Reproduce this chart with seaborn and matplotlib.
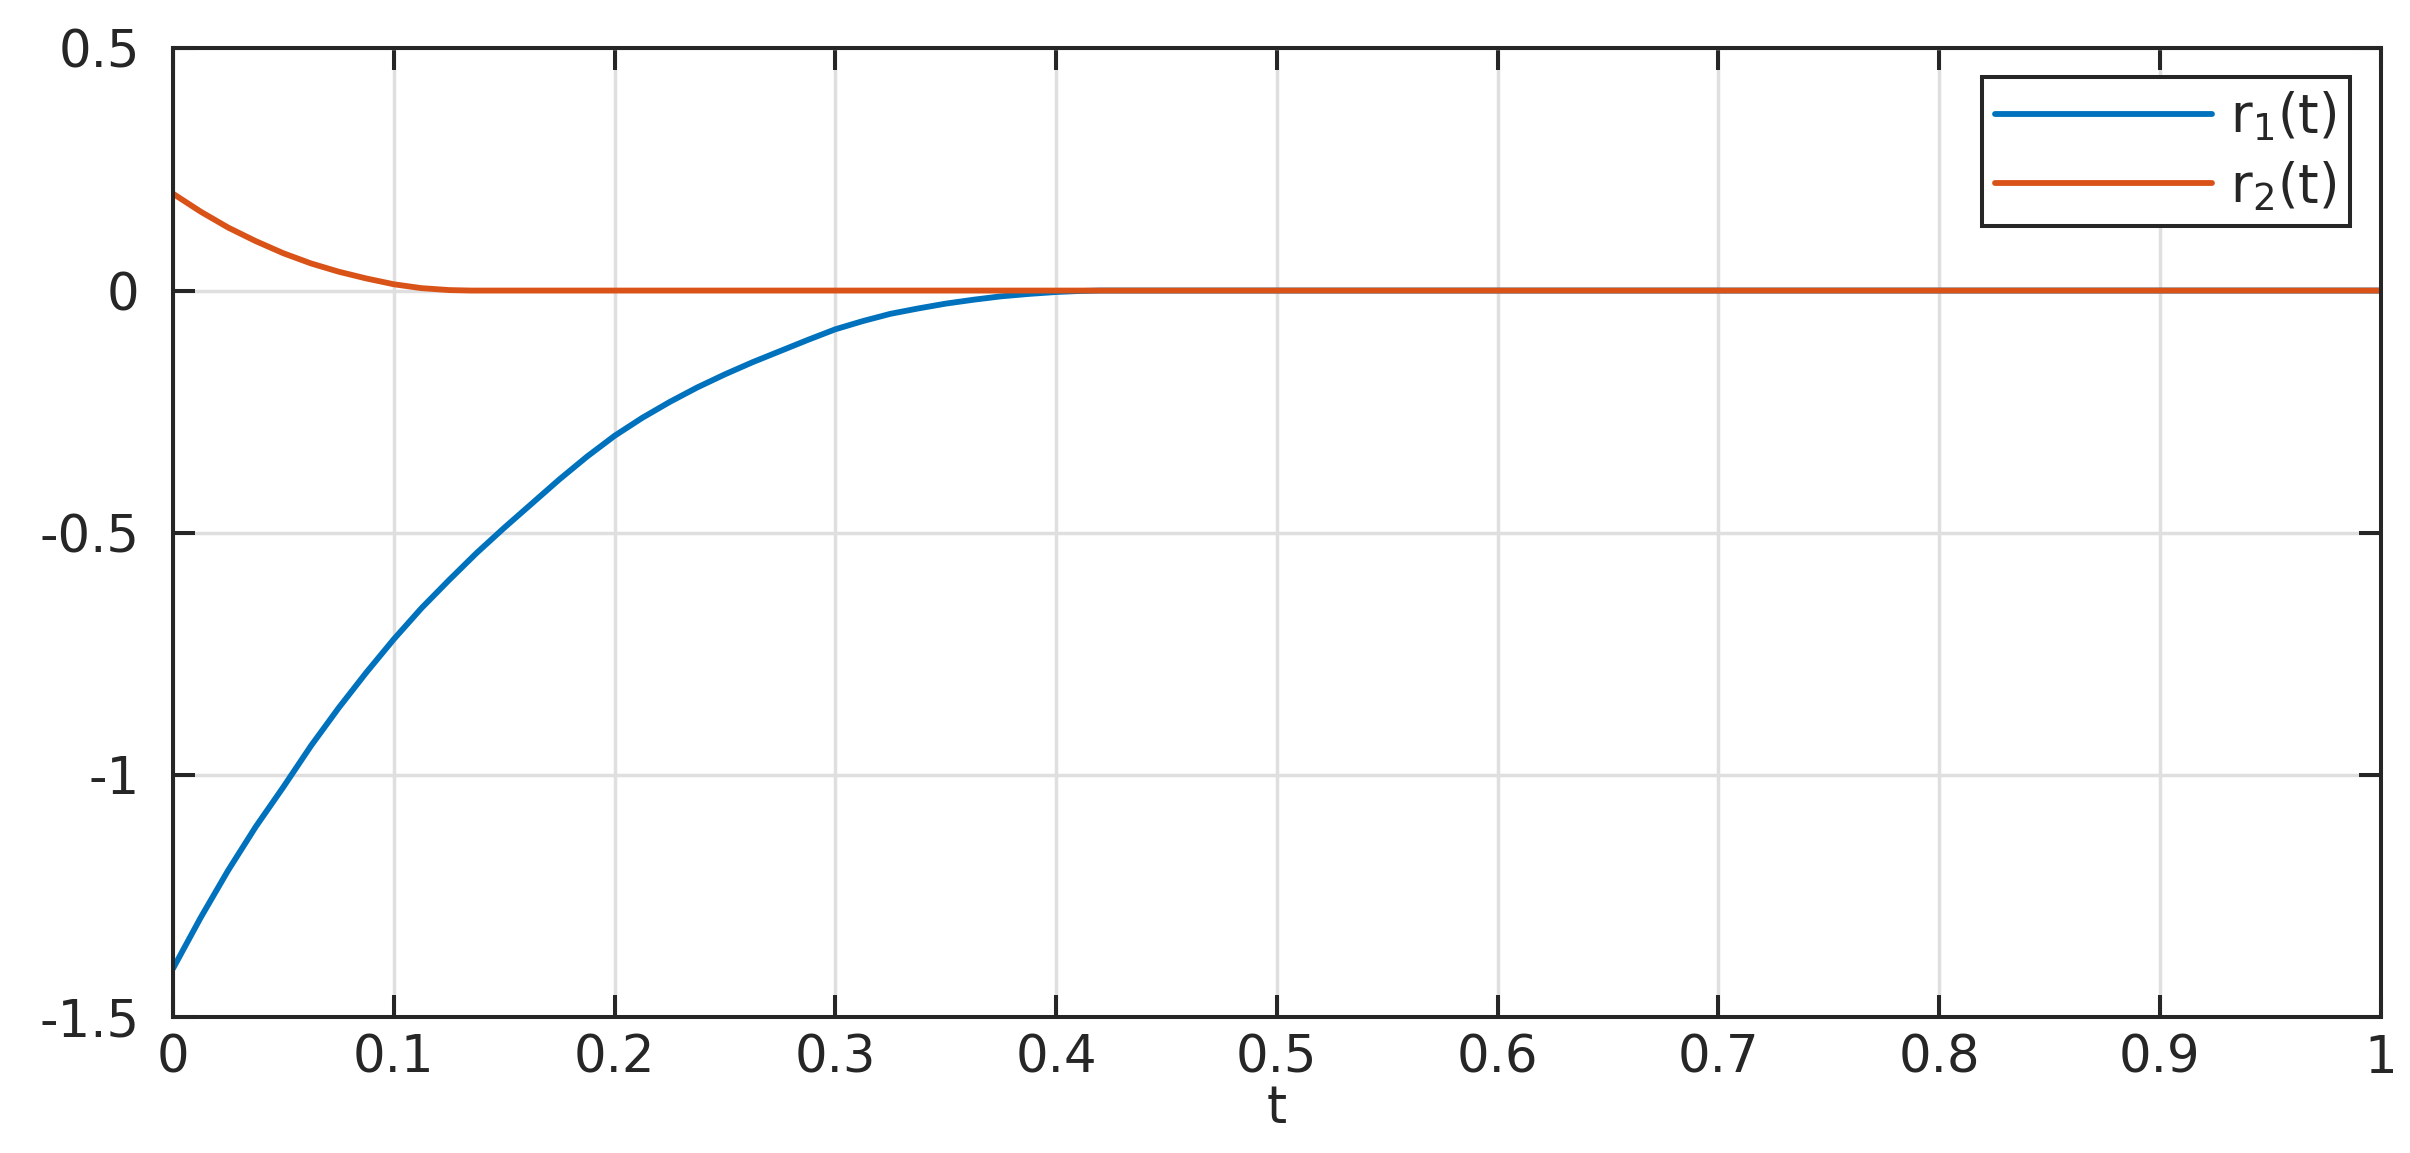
import numpy as np
import pandas as pd
import seaborn as sns
import matplotlib
matplotlib.use('Agg')
import matplotlib.pyplot as plt

# values
t_r1 = [0, 0.0125, 0.025, 0.0375, 0.05, 0.0625, 0.075, 0.0875, 0.1, 0.1125,
        0.125, 0.1375, 0.15, 0.1625, 0.175, 0.1875, 0.2, 0.2125, 0.225, 0.2375,
        0.25, 0.2625, 0.275, 0.2875, 0.3, 0.3125, 0.325, 0.3375, 0.35, 0.3625,
        0.375, 0.3875, 0.4, 0.41, 0.42, 1.0]
r1 = [-1.40, -1.295, -1.197, -1.107, -1.025, -0.94, -0.862, -0.789, -0.72, -0.656,
      -0.598, -0.542, -0.49, -0.44, -0.39, -0.343, -0.30, -0.263, -0.23, -0.20,
      -0.173, -0.148, -0.125, -0.102, -0.08, -0.063, -0.048, -0.037, -0.027, -0.019,
      -0.012, -0.007, -0.003, -0.001, 0.0, 0.0]

t_r2 = [0, 0.0125, 0.025, 0.0375, 0.05, 0.0625, 0.075, 0.0875, 0.1, 0.1125,
        0.125, 0.135, 1.0]
r2 = [0.2, 0.163, 0.13, 0.102, 0.077, 0.056, 0.039, 0.025, 0.013, 0.005,
      0.001, 0.0, 0.0]

x_ticks = [0, 0.1, 0.2, 0.3, 0.4, 0.5, 0.6, 0.7, 0.8, 0.9, 1]
x_tick_labels = ['0', '0.1', '0.2', '0.3', '0.4', '0.5', '0.6', '0.7', '0.8', '0.9', '1']
y_ticks = [-1.5, -1, -0.5, 0, 0.5]
y_tick_labels = ['-1.5', '-1', '-0.5', '0', '0.5']

sns.set_theme(style='white')
plt.rcParams['font.family'] = ['DejaVu Sans']
plt.rcParams['mathtext.fontset'] = 'dejavusans'

dark = '#262626'
blue = '#0072BD'
orange = '#D95319'

df1 = pd.DataFrame({'t': t_r1, 'r': r1})
df2 = pd.DataFrame({'t': t_r2, 'r': r2})

fig = plt.figure(figsize=(24.1, 11.53), dpi=100)
ax = fig.add_axes([0.0718, 0.118, 0.916, 0.840])

sns.lineplot(data=df1, x='t', y='r', ax=ax, color=blue, lw=4.2, label='r$_1$(t)')
sns.lineplot(data=df2, x='t', y='r', ax=ax, color=orange, lw=4.2, label='r$_2$(t)')

ax.set_xlim(0, 1)
ax.set_ylim(-1.5, 0.5)
ax.set_xticks(x_ticks)
ax.set_xticklabels(x_tick_labels)
ax.set_yticks(y_ticks)
ax.set_yticklabels(y_tick_labels)

ax.set_axisbelow(True)
ax.grid(True, color='#dfdfdf', lw=2.5)

for s in ax.spines.values():
    s.set_color(dark)
    s.set_linewidth(2.9)
    s.set_visible(True)

ax.tick_params(axis='both', direction='in', length=16, width=2.9, color=dark,
               labelcolor=dark, labelsize=37, top=True, right=True,
               bottom=True, left=True)
ax.tick_params(axis='x', pad=12)
ax.tick_params(axis='y', pad=24)

ax.set_xlabel('t', fontsize=37, color=dark, labelpad=0)
ax.set_ylabel('')

leg = ax.legend(loc='upper right', bbox_to_anchor=(0.986, 0.971), borderaxespad=0,
                fontsize=38, fancybox=False, framealpha=1, edgecolor=dark,
                handlelength=4.1, handletextpad=0.35, borderpad=0.25,
                labelspacing=0.3)
leg.get_frame().set_linewidth(2.9)
for h in leg.get_lines():
    h.set_linewidth(4.2)

fig.savefig('out.png', dpi=100, facecolor='white')
